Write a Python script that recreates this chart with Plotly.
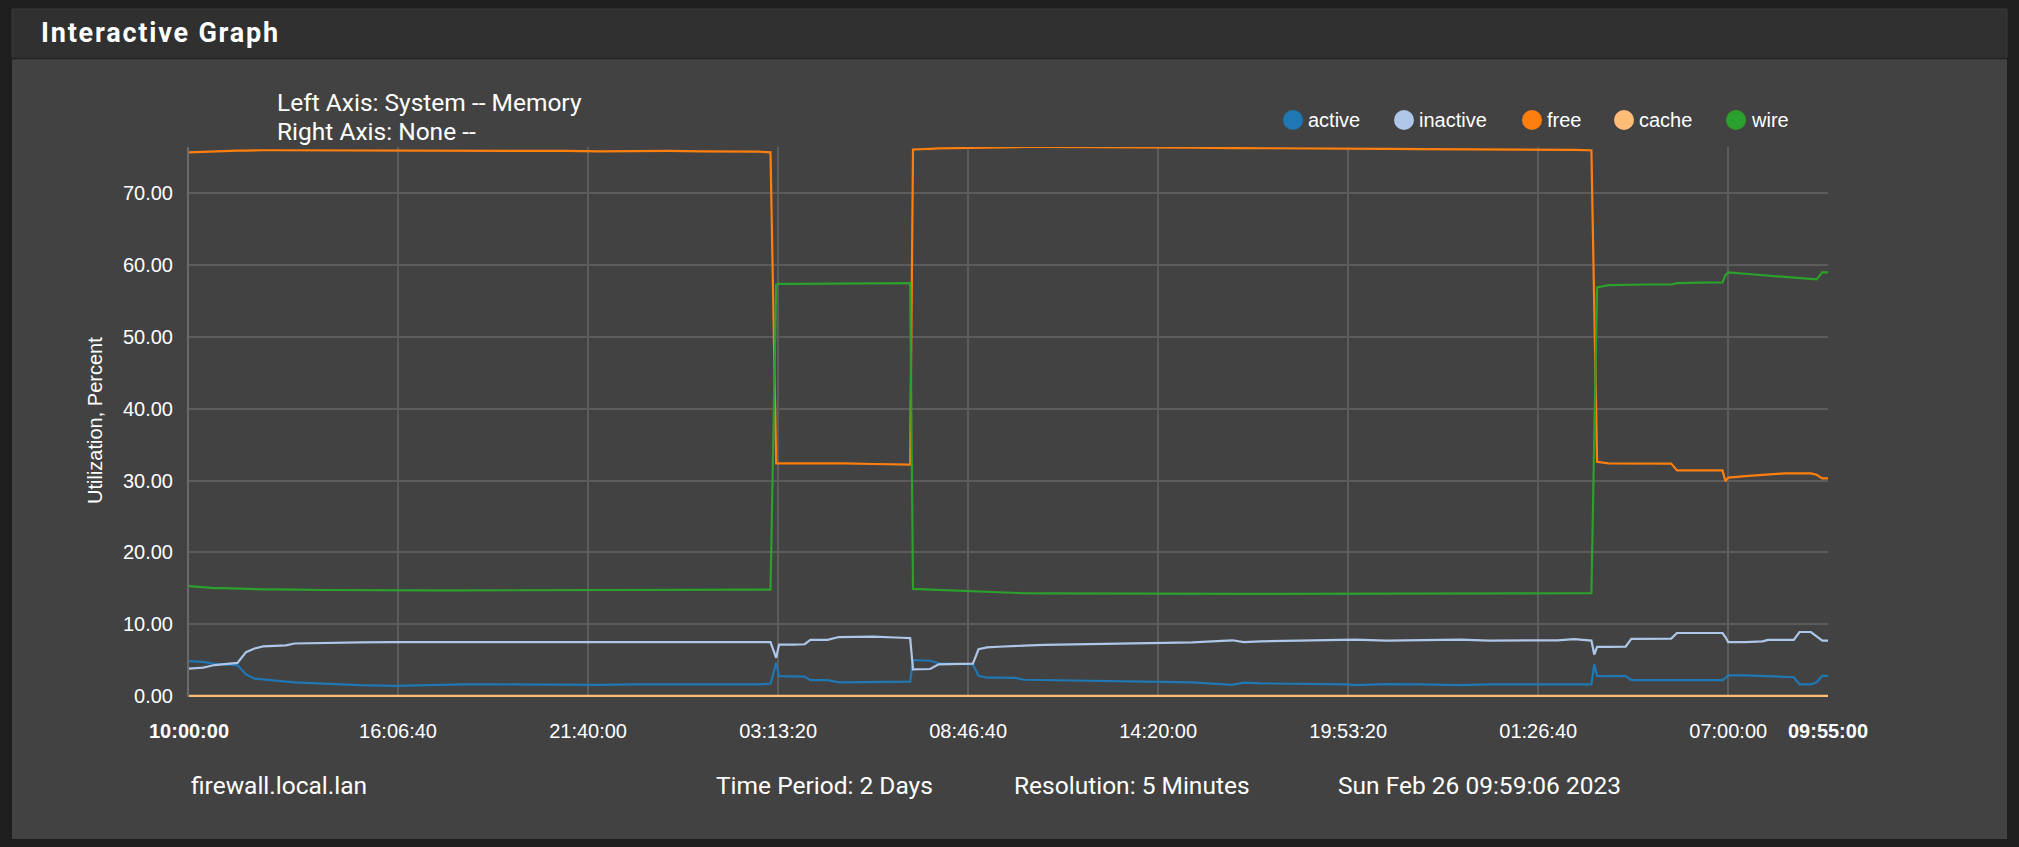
import pandas as pd
import plotly.graph_objects as go

# ---------------- data ----------------
START = "2023-02-24 10:00:00"
END = "2023-02-26 09:55:00"

# sample times, minutes after START
minutes = [0, 25, 45, 60, 75, 85, 100, 115, 130, 150, 170, 185, 240, 300, 360, 420,
           480, 540, 600, 660, 720, 780, 840, 900, 960, 1000, 1020,
           1030, 1035, 1060, 1080, 1090, 1120, 1140, 1150, 1200, 1250, 1265,
           1270, 1285, 1300, 1315, 1340, 1365, 1375, 1385, 1400, 1420, 1450, 1465,
           1500, 1560, 1620, 1695, 1760, 1830, 1850, 1880, 1940, 2030, 2045, 2100,
           2160, 2230, 2280, 2340, 2400, 2430, 2455, 2460,
           2465, 2470, 2490, 2520, 2530, 2560, 2600, 2610, 2650, 2690, 2695, 2700,
           2730, 2760, 2770, 2800, 2815, 2825, 2845, 2855, 2865, 2875]

active = [4.84, 4.75, 4.45, 4.4, 4.4, 4.3, 3.0, 2.4, 2.3, 2.2, 2.0, 1.9, 1.7, 1.5, 1.4, 1.55,
          1.6, 1.6, 1.55, 1.6, 1.55, 1.6, 1.6, 1.65, 1.55, 1.6, 1.7,
          4.6, 2.75, 2.7, 2.7, 2.2, 2.2, 1.9, 1.9, 1.9, 1.95, 2.0,
          5.0, 5.0, 4.9, 4.55, 4.5, 4.5, 4.4, 2.8, 2.55, 2.55, 2.5, 2.25,
          2.2, 2.15, 2.05, 2.0, 1.9, 1.55, 1.85, 1.75, 1.7, 1.6, 1.5, 1.65,
          1.6, 1.5, 1.6, 1.6, 1.55, 1.5, 1.6, 1.6,
          4.4, 2.8, 2.77, 2.75, 2.2, 2.17, 2.17, 2.2, 2.2, 2.2, 2.5, 2.86,
          2.86, 2.8, 2.7, 2.7, 2.6, 1.62, 1.62, 1.9, 2.8, 2.8]

inactive = [3.79, 3.95, 4.3, 4.4, 4.45, 4.6, 6.1, 6.6, 6.9, 7.0, 7.05, 7.3, 7.4, 7.45, 7.5, 7.45,
            7.5, 7.5, 7.45, 7.5, 7.5, 7.5, 7.55, 7.5, 7.55, 7.6, 7.5,
            5.3, 7.15, 7.15, 7.2, 7.8, 7.8, 8.2, 8.2, 8.25, 8.1, 8.05,
            3.7, 3.7, 3.75, 4.4, 4.45, 4.45, 4.5, 6.5, 6.75, 6.85, 6.9, 7.0,
            7.1, 7.2, 7.3, 7.4, 7.45, 7.75, 7.5, 7.6, 7.7, 7.75, 7.85, 7.7,
            7.75, 7.85, 7.7, 7.7, 7.75, 7.9, 7.7, 7.7,
            5.76, 6.84, 6.84, 6.85, 7.95, 7.98, 7.98, 8.76, 8.76, 8.76, 8.2, 7.5,
            7.5, 7.6, 7.8, 7.8, 7.8, 8.9, 8.9, 8.3, 7.7, 7.7]

free = [75.7, 75.8, 75.85, 75.9, 75.9, 75.95, 75.95, 76.0, 76.0, 76.0, 76.0, 76.0, 76.0, 76.0, 76.0, 75.95,
        75.95, 75.9, 75.9, 75.9, 75.85, 75.9, 75.9, 75.85, 75.85, 75.8, 75.7,
        32.4, 32.4, 32.4, 32.45, 32.4, 32.4, 32.4, 32.4, 32.3, 32.3, 32.2,
        76.1, 76.2, 76.2, 76.25, 76.3, 76.3, 76.3, 76.35, 76.4, 76.45, 76.45, 76.45,
        76.45, 76.45, 76.4, 76.4, 76.35, 76.3, 76.3, 76.3, 76.25, 76.2, 76.2, 76.2,
        76.15, 76.15, 76.1, 76.1, 76.05, 76.05, 76.0, 76.0,
        54.0, 32.6, 32.4, 32.4, 32.4, 32.4, 32.35, 31.4, 31.4, 31.4, 29.9, 30.4,
        30.6, 30.8, 30.9, 31.0, 31.0, 31.0, 31.0, 30.8, 30.3, 30.3]

cache = [0.0] * len(minutes)

wire = [15.3, 15.1, 15.0, 15.0, 14.95, 14.95, 14.9, 14.9, 14.85, 14.85, 14.8, 14.8, 14.75, 14.7, 14.7, 14.7,
        14.7, 14.7, 14.7, 14.7, 14.72, 14.72, 14.75, 14.75, 14.75, 14.78, 14.8,
        57.3, 57.4, 57.4, 57.4, 57.4, 57.4, 57.4, 57.4, 57.45, 57.45, 57.5,
        14.9, 14.85, 14.8, 14.7, 14.65, 14.6, 14.55, 14.5, 14.45, 14.4, 14.35, 14.3,
        14.28, 14.25, 14.22, 14.2, 14.2, 14.2, 14.2, 14.2, 14.2, 14.2, 14.2, 14.22,
        14.22, 14.22, 14.25, 14.25, 14.25, 14.28, 14.3, 14.3,
        36.0, 56.9, 57.2, 57.25, 57.3, 57.3, 57.3, 57.5, 57.55, 57.6, 58.6, 59.0,
        58.8, 58.6, 58.5, 58.3, 58.2, 58.1, 58.0, 58.0, 59.0, 59.0]

series_names = ["active", "inactive", "free", "cache", "wire"]
series_values = [active, inactive, free, cache, wire]
series_colors = ["#1f77b4", "#aec7e8", "#ff7f0e", "#ffbb78", "#2ca02c"]

tick_times = ["2023-02-24 10:00:00", "2023-02-24 16:06:40", "2023-02-24 21:40:00",
              "2023-02-25 03:13:20", "2023-02-25 08:46:40", "2023-02-25 14:20:00",
              "2023-02-25 19:53:20", "2023-02-26 01:26:40", "2023-02-26 07:00:00",
              "2023-02-26 09:55:00"]
tick_labels = ["10:00:00", "16:06:40", "21:40:00", "03:13:20", "08:46:40", "14:20:00",
               "19:53:20", "01:26:40", "07:00:00", "09:55:00"]
y_ticks = [0, 10, 20, 30, 40, 50, 60, 70]

footer_texts = ["firewall.local.lan", "Time Period: 2 Days", "Resolution: 5 Minutes",
                "Sun Feb 26 09:59:06 2023"]

# ---------------- layout geometry ----------------
W, H = 2019, 847
L, R, T, B = 189, 1828, 147, 697
PW, PH = R - L, B - T


def px(x):
    return (x - L) / PW


def py(y):
    return (B - y) / PH


times = pd.Timestamp(START) + pd.to_timedelta(minutes, unit="min")

fig = go.Figure()
for name, vals, col in zip(series_names, series_values, series_colors):
    fig.add_trace(go.Scatter(x=times, y=vals, name=name, mode="lines",
                             line=dict(color=col, width=2.2), showlegend=False,
                             hoverinfo="skip"))

ymax = max(max(v) for v in series_values)

grid_col = "#5c5c5c"
TICKFONT = dict(family="Arial, Liberation Sans", size=20, color="#ffffff")

fig.update_layout(
    width=W, height=H,
    margin=dict(l=L, r=W - R, t=T, b=H - B, pad=0),
    paper_bgcolor="#424242",
    plot_bgcolor="rgba(0,0,0,0)",
    showlegend=False,
    xaxis=dict(type="date", range=[START, END], tickvals=tick_times[1:-1],
               showticklabels=False, showgrid=True, gridcolor=grid_col, gridwidth=1.5,
               ticks="", zeroline=False, showline=False),
    xaxis2=dict(type="date", range=[START, END], overlaying="x", anchor="y", side="bottom",
                tickvals=tick_times,
                ticktext=["<b>" + tick_labels[0] + "</b>"] + tick_labels[1:-1]
                + ["<b>" + tick_labels[-1] + "</b>"],
                showgrid=False, ticks="", tickfont=TICKFONT, ticklabelstandoff=20,
                zeroline=False, showline=False),
    yaxis=dict(range=[-0.15, ymax], tickvals=y_ticks, tickformat=".2f",
               showgrid=True, gridcolor=grid_col, gridwidth=1.5, zeroline=False,
               showline=True, linecolor="#6a6a6a", linewidth=2, ticks="",
               ticklabelstandoff=10, tickfont=TICKFONT),
)

# dummy trace to activate xaxis2
fig.add_trace(go.Scatter(x=[START], y=[None], xaxis="x2", yaxis="y", showlegend=False,
                         hoverinfo="skip"))

shapes = []
# outer dark frame
dark = "#1e1e1e"
for x0, y0, x1, y1 in [(0, 0, W, 9), (0, 839, W, H), (0, 0, 12, H), (2007, 0, W, H)]:
    shapes.append(dict(type="rect", xref="paper", yref="paper", x0=px(x0), x1=px(x1),
                       y0=py(y0), y1=py(y1), fillcolor=dark, line=dict(width=0),
                       layer="below"))
# header bar
shapes.append(dict(type="rect", xref="paper", yref="paper", x0=px(12), x1=px(2007),
                   y0=py(9), y1=py(58), fillcolor="#303030",
                   line=dict(width=1, color="#3a3a3a"), layer="below"))
shapes.append(dict(type="line", xref="paper", yref="paper", x0=px(12), x1=px(2007),
                   y0=py(58.5), y1=py(58.5), line=dict(width=1.5, color="#222222"),
                   layer="below"))

annotations = []
annotations.append(dict(xref="paper", yref="paper", x=px(39), y=py(33), xanchor="left",
                        yanchor="middle", showarrow=False,
                        text='<span style="letter-spacing:1.8px"><b>Interactive Graph</b></span>',
                        font=dict(family="Roboto", size=27, color="#ffffff")))
annotations.append(dict(xref="paper", yref="paper", x=px(275), y=py(103), xanchor="left",
                        yanchor="middle", showarrow=False, text="Left Axis: System -- Memory",
                        font=dict(family="Roboto", size=24.5, color="#ffffff")))
annotations.append(dict(xref="paper", yref="paper", x=px(275), y=py(131), xanchor="left",
                        yanchor="middle", showarrow=False, text="Right Axis: None --",
                        font=dict(family="Roboto", size=24.5, color="#ffffff")))
# y-axis title
annotations.append(dict(xref="paper", yref="paper", x=px(95), y=py(421), xanchor="center",
                        yanchor="middle", showarrow=False, textangle=-90,
                        text="Utilization, Percent",
                        font=dict(family="Arial, Liberation Sans", size=20, color="#ffffff")))

# custom legend
legend_x = [1293, 1404, 1532, 1624, 1736]
for name, col, lx in zip(series_names, series_colors, legend_x):
    r = 10
    shapes.append(dict(type="circle", xref="paper", yref="paper", x0=px(lx - r), x1=px(lx + r),
                       y0=py(120 + r), y1=py(120 - r), fillcolor=col, line=dict(width=0)))
    annotations.append(dict(xref="paper", yref="paper", x=px(lx + 13), y=py(120),
                            xanchor="left", yanchor="middle", showarrow=False, text=name,
                            font=dict(family="Arial, Liberation Sans", size=20,
                                      color="#ffffff")))

# footer
footer_x = [189, 714, 1012, 1336]
for txt, fx in zip(footer_texts, footer_x):
    annotations.append(dict(xref="paper", yref="paper", x=px(fx), y=py(785), xanchor="left",
                            yanchor="middle", showarrow=False, text=txt,
                            font=dict(family="Roboto", size=24.5, color="#ffffff")))

fig.update_layout(shapes=shapes, annotations=annotations)
fig.write_html(
    "out.html",
    config={"displayModeBar": False},
    post_script="document.body.style.margin='0';document.body.style.background='#1e1e1e';",
)
